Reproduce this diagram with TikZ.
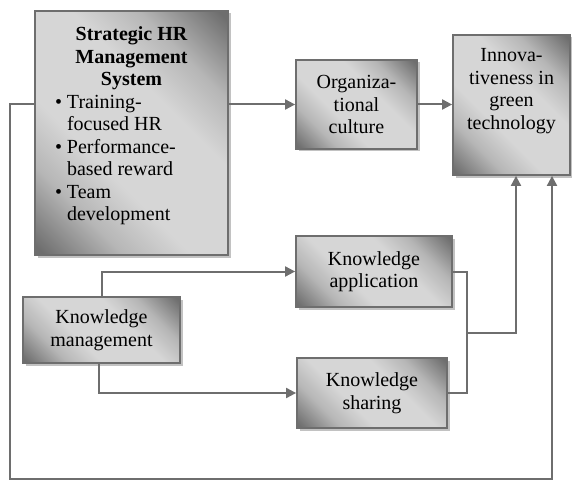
\documentclass[tikz,border=0pt]{standalone}
\usepackage{fontspec}
\setmainfont{Liberation Serif}
\usetikzlibrary{arrows.meta,shadows}

\definecolor{boxdark}{HTML}{6E6E6E}
\definecolor{boxmid}{HTML}{B6B6B6}
\definecolor{boxlight}{HTML}{D6D6D6}
\definecolor{linegray}{HTML}{6E6E6E}

% Diagonal grey shading of the boxes
\pgfdeclareverticalshading{boxshade}{100bp}{color(0bp)=(boxdark); color(16bp)=(boxdark); color(29bp)=(boxmid); color(40bp)=(boxlight); color(60bp)=(boxlight); color(71bp)=(boxmid); color(84bp)=(boxdark); color(100bp)=(boxdark)}

\tikzset{
  box/.style={draw=boxdark, line width=1.8pt, shading=boxshade, shading angle=-45,
    drop shadow={shadow xshift=2.5pt, shadow yshift=-2.5pt, fill=black!40, opacity=0.6},
    inner sep=0pt, text=black, font=\fontsize{20}{22.5}\selectfont},
  link/.style={draw=linegray, line width=2pt},
  conn/.style={link, -{Triangle[length=10pt,width=10pt]}},
}

\begin{document}
\begin{tikzpicture}[x=1pt, y=-1pt]
	\useasboundingbox (0,0) rectangle (572,481);

	% Boxes
	\node[box, minimum width=193pt, minimum height=244pt] (shrm) at (131.5,133)
	{\raisebox{6pt}[\height][\depth]{\begin{minipage}{173pt}
	\centering\textbf{Strategic HR\\Management\\System}\par
	\raggedright\hspace*{10pt}\begin{tabular}[t]{@{}l@{\hspace{5pt}}l@{}}
	\textbullet & Training-\\
	 & focused HR\\
	\textbullet & Performance-\\
	 & based reward\\
	\textbullet & Team\\
	 & development
	\end{tabular}
	\end{minipage}}};
	\node[box, minimum width=121pt, minimum height=89pt, align=center] (org) at (356.5,104.5) {Organiza-\\tional\\culture};
	\node[box, minimum width=117pt, minimum height=140pt] (innov) at (511.5,105)
	{\raisebox{14pt}[\height][\depth]{\begin{tabular}{@{}c@{}}Innova-\\tiveness in\\green\\technology\end{tabular}}};
	\node[box, minimum width=156pt, minimum height=71pt, align=center] (ka) at (374,271.5) {Knowledge\\application};
	\node[box, minimum width=157pt, minimum height=66pt, align=center] (km) at (101.5,330) {Knowledge\\management};
	\node[box, minimum width=150pt, minimum height=70pt, align=center] (ks) at (372,393) {Knowledge\\sharing};

	% Upper path
	\draw[conn] (org.west -| shrm.east) -- (org.west);
	\draw[conn] (org.east) -- (org.east -| innov.west);

	% Knowledge management
	\draw[conn] (km.north) |- (ka.west);
	\draw[conn] ([xshift=-3pt]km.south) |- (ks.west);
	\coordinate (merge) at (467,333);
	\draw[link] (ka.east) -| (merge);
	\draw[link] (ks.east) -| (merge);
	\draw[conn] (merge) -| ([xshift=4.5pt]innov.south);

	% Direct path
	\coordinate (loopleft) at (9.5,479);
	\coordinate (loopright) at (552,479);
	\draw[conn] (org.west -| shrm.west) -| (loopleft) -- (loopright) -- (loopright |- innov.south);
\end{tikzpicture}
\end{document}
